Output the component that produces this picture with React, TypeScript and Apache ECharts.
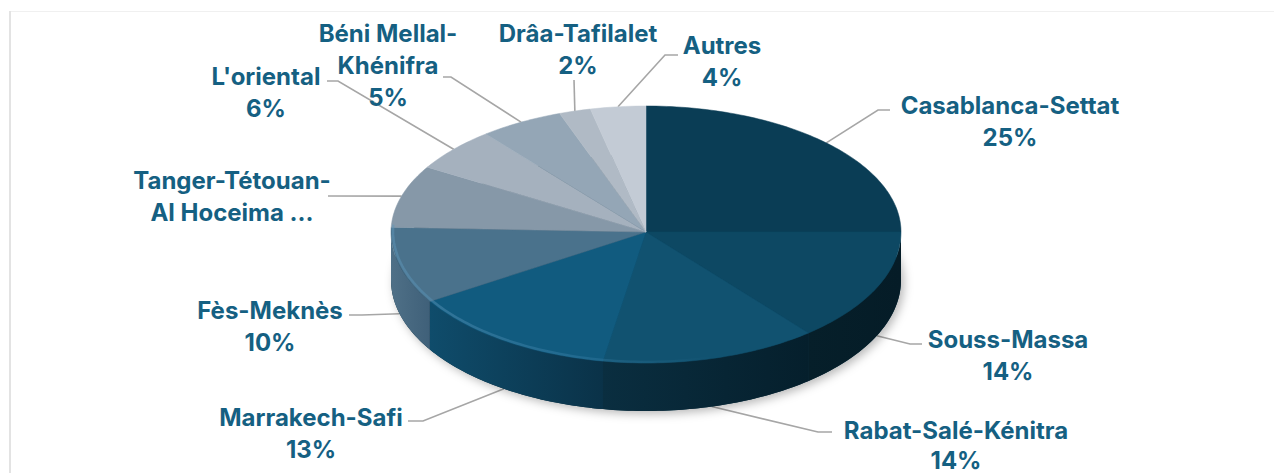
import React, { useEffect, useRef } from "react";
import * as echarts from "echarts";

const regions = ["Casablanca-Settat", "Souss-Massa", "Rabat-Salé-Kénitra", "Marrakech-Safi", "Fès-Meknès", "Tanger-Tétouan-Al Hoceima", "L'oriental", "Béni Mellal-Khénifra", "Drâa-Tafilalet", "Autres"];
const shares = [25, 14, 13.7, 13.4, 9.5, 8, 5.6, 5.3, 2, 3.5];
const labelTexts = [
  "Casablanca-Settat\n25%",
  "Souss-Massa\n14%",
  "Rabat-Salé-Kénitra\n14%",
  "Marrakech-Safi\n13%",
  "Fès-Meknès\n10%",
  "Tanger-Tétouan-\nAl Hoceima ...",
  "L'oriental\n6%",
  "Béni Mellal-\nKhénifra\n5%",
  "Drâa-Tafilalet\n2%",
  "Autres\n4%",
];
const faceColors = ["#0a3d55", "#0d4863", "#115270", "#115b7f", "#4a728c", "#8698a8", "#a5b1be", "#94a6b6", "#b0bac5", "#c3cbd5"];
const wallColors: ([string, string] | null)[] = [
  ["#071f2a", "#061d28"],
  ["#061f2a", "#051c27"],
  ["#0a2e40", "#051f2c"],
  ["#0f4c6b", "#0a3248"],
  ["#4f7087", "#3f6079"],
  null, null, null, null, null,
];

const CX = 646, CY = 232, RX = 255, RY_UP = 126, RY_DOWN = 131, DEPTH = 48;
const FONT = "Inter";
const TEXT_COLOR = "#156082";
const LEADER = "#a6a6a6";
// label centre (first line middle), line height and leader elbows
const labelCentres = [[1010, 105], [1008, 339], [956, 430], [311, 417], [270, 310], [232, 180], [266, 76], [388, 33], [578, 33], [722, 45]];
const labelLineHeights = [32, 32, 30, 32, 32, 32, 32, 32, 32, 32];
const leaderElbows = [
  [[878, 110], [890, 110]],
  [[910, 344], [922, 344]],
  [[818, 432], [832, 432]],
  [[423, 421], [408, 421]],
  [[362, 315], [349, 315]],
  [[328, 196]],
  [[338, 81], [327, 81]],
  [[451, 77], [443, 77]],
  [[574, 80]],
  [[665, 55], [678, 55]],
];

const total = shares.reduce((a, b) => a + b, 0);
const starts: number[] = [];
shares.reduce((acc, v, i) => { starts[i] = acc; return acc + v; }, 0);
const angleOf = (v: number) => (v / total) * Math.PI * 2;
const topPoint = (a: number) => {
  const c = Math.cos(a);
  return [CX + RX * Math.sin(a), CY - c * (c >= 0 ? RY_UP : RY_DOWN)];
};
const arcPoints = (a0: number, a1: number) => {
  const n = Math.max(2, Math.ceil(Math.abs(a1 - a0) / 0.02));
  const pts: number[][] = [];
  for (let k = 0; k <= n; k++) pts.push(topPoint(a0 + ((a1 - a0) * k) / n));
  return pts;
};
const isFront = (a: number) => a > Math.PI / 2 && a < (Math.PI * 3) / 2;
const FRONT0 = Math.PI / 2, FRONT1 = (Math.PI * 3) / 2;

const seriesData = shares.map((v, i) => ({ name: regions[i], value: v }));

function wallItem(i: number) {
  const a0 = angleOf(starts[i]);
  const a1 = angleOf(starts[i] + shares[i]);
  const from = Math.max(a0, FRONT0), to = Math.min(a1, FRONT1);
  const colors = wallColors[i];
  if (!colors || to <= from) return { type: "group", children: [] };
  const upper = arcPoints(from, to);
  const lower = upper.map(([x, y]) => [x, y + DEPTH]).reverse();
  return {
    type: "polygon",
    shape: { points: [...upper, ...lower] },
    style: {
      fill: new echarts.graphic.LinearGradient(0, 0, 1, 0, [
        { offset: 0, color: colors[0] },
        { offset: 1, color: colors[1] },
      ]),
    },
  };
}

function App() {
  const ref = useRef<HTMLDivElement>(null);
  useEffect(() => {
    if (!ref.current) return;
    const chart = echarts.init(ref.current, undefined, { renderer: "svg" });
    const full = Math.PI * 2;
    const outline = arcPoints(0, full);
    const option = {
      animation: false,
      backgroundColor: "#ffffff",
      graphic: [
        { type: "rect", shape: { x: 9, y: 11, width: 2, height: 462 }, style: { fill: "#e3e3e3" }, silent: true },
        { type: "rect", shape: { x: 11, y: 11, width: 1263, height: 1 }, style: { fill: "#f0f0f0" }, silent: true },
      ],
      series: [
        {
          type: "custom", coordinateSystem: "none", z: 1, data: seriesData,
          renderItem: (p: any) => {
            const i = p.dataIndex;
            const mid = angleOf(starts[i] + shares[i] / 2);
            const s = topPoint(mid);
            const anchor = isFront(mid) ? [s[0], s[1] + DEPTH] : s;
            return {
              type: "polyline",
              shape: { points: [anchor, ...leaderElbows[i]] },
              style: { stroke: LEADER, lineWidth: 1.6, fill: "none" },
            };
          },
        },
        {
          type: "custom", coordinateSystem: "none", z: 2, data: [1],
          renderItem: () => ({
            type: "polygon",
            shape: { points: outline.map(([x, y]) => [x, y + DEPTH]) },
            style: { fill: "#0a2a3a", shadowBlur: 10, shadowColor: "rgba(0,0,0,0.28)", shadowOffsetX: 3, shadowOffsetY: 3 },
          }),
        },
        {
          type: "custom", coordinateSystem: "none", z: 3, data: seriesData,
          renderItem: (p: any) => wallItem(p.dataIndex),
        },
        {
          type: "custom", coordinateSystem: "none", z: 4, data: seriesData,
          renderItem: (p: any) => {
            const i = p.dataIndex;
            const a0 = angleOf(starts[i]);
            const a1 = angleOf(starts[i] + shares[i]);
            return {
              type: "polygon",
              shape: { points: [[CX, CY], ...arcPoints(a0, a1)] },
              style: { fill: faceColors[i], stroke: faceColors[i], lineWidth: 0.5 },
            };
          },
        },
        {
          type: "custom", coordinateSystem: "none", z: 5, data: [1],
          renderItem: () => ({
            type: "polyline",
            shape: { points: arcPoints(FRONT0 + 1.3, FRONT1 + 0.05).map(([x, y]) => [x + (x < CX ? 2 : 0), y - 1]) },
            style: {
              fill: "none",
              lineWidth: 2.5,
              stroke: new echarts.graphic.LinearGradient(1, 0, 0, 0, [
                { offset: 0, color: "rgba(60,130,170,0)" },
                { offset: 0.45, color: "rgba(60,130,170,0.4)" },
                { offset: 1, color: "rgba(95,150,185,0.5)" },
              ]),
            },
          }),
        },
        {
          type: "custom", coordinateSystem: "none", z: 6, data: seriesData,
          renderItem: (p: any) => {
            const i = p.dataIndex;
            const [x, y] = labelCentres[i];
            const lh = labelLineHeights[i];
            return {
              type: "text",
              x, y: y - lh / 2,
              style: {
                text: labelTexts[i],
                font: `700 24px ${FONT}`,
                lineHeight: lh,
                fill: TEXT_COLOR,
                align: "center",
                verticalAlign: "top",
              },
            };
          },
        },
      ],
    };
    chart.setOption(option as any);
    return () => chart.dispose();
  }, []);
  return <div ref={ref} style={{ width: 1274, height: 473, position: "absolute", left: 0, top: 0 }} />;
}

export default App;
